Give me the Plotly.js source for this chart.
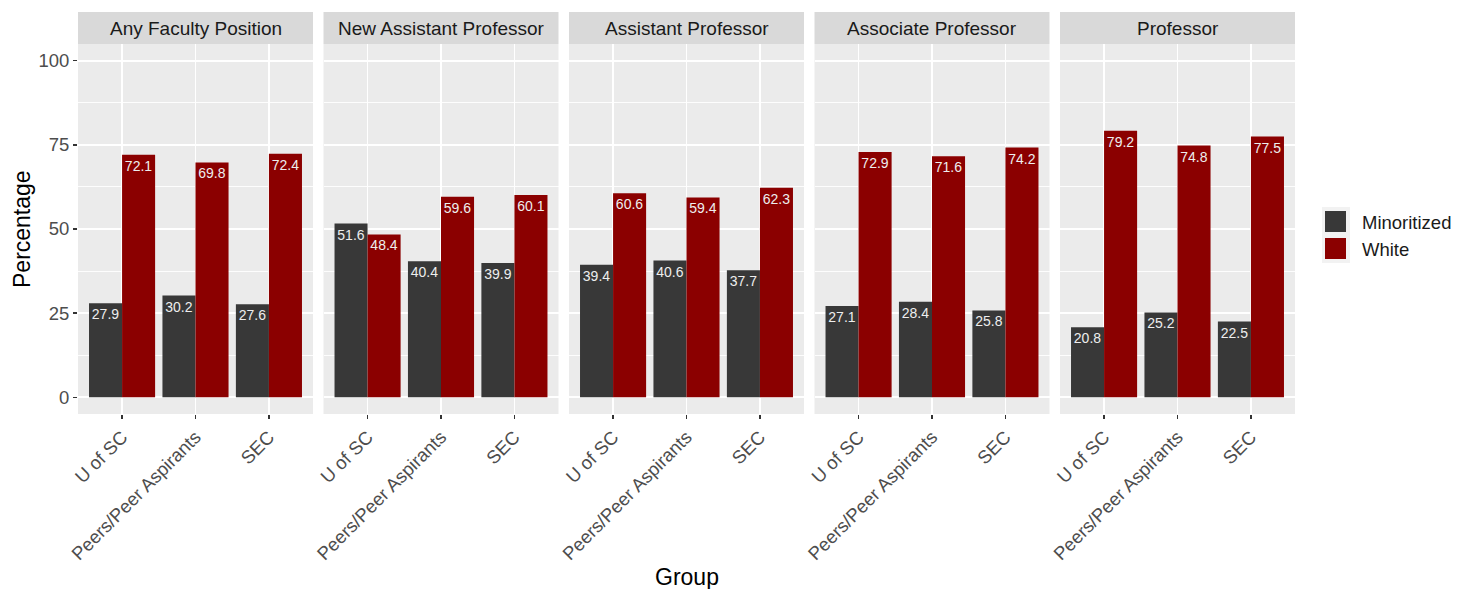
<!DOCTYPE html>
<html>
<head>
<meta charset="utf-8">
<script src="https://cdn.plot.ly/plotly-3.0.1.min.js"></script>
<style>html,body{margin:0;padding:0;background:#fff;}#chart{width:1469px;height:589px;}</style>
</head>
<body>
<div id="chart"></div>
<script>
const panels = ["Any Faculty Position", "New Assistant Professor", "Assistant Professor", "Associate Professor", "Professor"];
const groups = ["U of SC", "Peers/Peer Aspirants", "SEC"];
const minoritized = [
  [27.9, 30.2, 27.6],
  [51.6, 40.4, 39.9],
  [39.4, 40.6, 37.7],
  [27.1, 28.4, 25.8],
  [20.8, 25.2, 22.5]
];
const white = [
  [72.1, 69.8, 72.4],
  [48.4, 59.6, 60.1],
  [60.6, 59.4, 62.3],
  [72.9, 71.6, 74.2],
  [79.2, 74.8, 77.5]
];
const seriesNames = ["Minoritized", "White"];
const seriesColors = ["#383838", "#8B0000"];
const yTicks = [0, 25, 50, 75, 100];

const W = 1469, H = 589;
const margin = {l: 78, r: 174, t: 44, b: 175};
const plotW = W - margin.l - margin.r;
const plotH = H - margin.t - margin.b;
const gapPx = 10.5;
const panelW = (plotW - 4 * gapPx) / 5;
const font = "Liberation Sans, Arial, Helvetica, sans-serif";
const xpos = groups.map((g, i) => i + 1);
const px = v => (v - margin.l) / plotW;
const py = v => (H - margin.b - v) / plotH;

const traces = [];
const layout = {
  width: W, height: H, margin: margin,
  paper_bgcolor: "#FFFFFF", plot_bgcolor: "#EBEBEB",
  font: {family: font, color: "#4D4D4D"},
  barmode: "group", bargap: 0.1, bargroupgap: 0,
  showlegend: false,
  shapes: [], annotations: []
};

panels.forEach((p, k) => {
  const suf = k === 0 ? "" : String(k + 1);
  const x0 = k * (panelW + gapPx) / plotW;
  const x1 = (k * (panelW + gapPx) + panelW) / plotW;
  layout["xaxis" + suf] = {
    domain: [x0, x1], anchor: "y" + suf, range: [0.4, 3.6],
    tickvals: xpos, ticktext: groups, tickangle: -45,
    tickfont: {size: 18.5, color: "#4D4D4D", family: font},
    ticks: "outside", ticklen: 4, tickwidth: 1.2, tickcolor: "#333333",
    showgrid: true, gridcolor: "#FFFFFF", gridwidth: 1.8,
    zeroline: false, showline: false, fixedrange: true
  };
  layout["yaxis" + suf] = {
    domain: [0, 1], anchor: "x" + suf, range: [-5, 105],
    tickvals: yTicks, ticktext: yTicks.map(String),
    showticklabels: k === 0,
    tickfont: {size: 18.5, color: "#4D4D4D", family: font},
    ticks: k === 0 ? "outside" : "", ticklen: 4, tickwidth: 1.2, tickcolor: "#333333",
    showgrid: true, gridcolor: "#FFFFFF", gridwidth: 1.8,
    minor: {tickvals: [12.5, 37.5, 62.5, 87.5], showgrid: true, gridcolor: "#FFFFFF", gridwidth: 0.9, ticks: ""},
    zeroline: false, showline: false, fixedrange: true
  };
  if (k > 0) layout["yaxis" + suf].matches = "y";
  [minoritized, white].forEach((arr, s) => {
    traces.push({
      type: "bar", x: xpos, y: arr[k], name: seriesNames[s],
      xaxis: "x" + suf, yaxis: "y" + suf,
      marker: {color: seriesColors[s], line: {width: 0}},
      text: arr[k].map(v => v.toFixed(1)), textposition: "inside", insidetextanchor: "end",
      textangle: 0, constraintext: "none",
      insidetextfont: {size: 14, color: "#EEEEEE", family: font},
      legendgroup: seriesNames[s], showlegend: false, hoverinfo: "skip"
    });
  });
  layout.shapes.push({type: "rect", xref: "paper", yref: "paper", x0: x0, x1: x1,
    y0: 1, y1: 1 + 32 / plotH, fillcolor: "#D9D9D9", line: {width: 0}, layer: "below"});
  layout.annotations.push({xref: "paper", yref: "paper", x: (x0 + x1) / 2, y: 1 + 16 / plotH,
    text: p, showarrow: false, xanchor: "center", yanchor: "middle",
    font: {size: 19, color: "#1A1A1A", family: font}});
});

// legend (keys built from the series arrays)
layout.shapes.push({type: "rect", xref: "paper", yref: "paper", x0: px(1322), x1: px(1350),
  y0: py(263), y1: py(207), fillcolor: "#F2F2F2", line: {width: 0}});
seriesNames.forEach((n, s) => {
  const top = 211 + s * 27;
  layout.shapes.push({type: "rect", xref: "paper", yref: "paper", x0: px(1325), x1: px(1346),
    y0: py(top + 21), y1: py(top), fillcolor: seriesColors[s], line: {width: 0}});
  layout.annotations.push({xref: "paper", yref: "paper", x: px(1360), y: py(top + 11),
    text: n, showarrow: false, xanchor: "left", yanchor: "middle",
    font: {size: 18.5, color: "#1A1A1A", family: font}});
});

layout.annotations.push({xref: "paper", yref: "paper", x: 0.5, y: py(577),
  text: "Group", showarrow: false, xanchor: "center", yanchor: "middle",
  font: {size: 23, color: "#000000", family: font}});
layout.annotations.push({xref: "paper", yref: "paper", x: px(22), y: 0.5,
  text: "Percentage", showarrow: false, textangle: -90, xanchor: "center", yanchor: "middle",
  font: {size: 23, color: "#000000", family: font}});

Plotly.newPlot("chart", traces, layout, {displayModeBar: false, staticPlot: true});
</script>
</body>
</html>
